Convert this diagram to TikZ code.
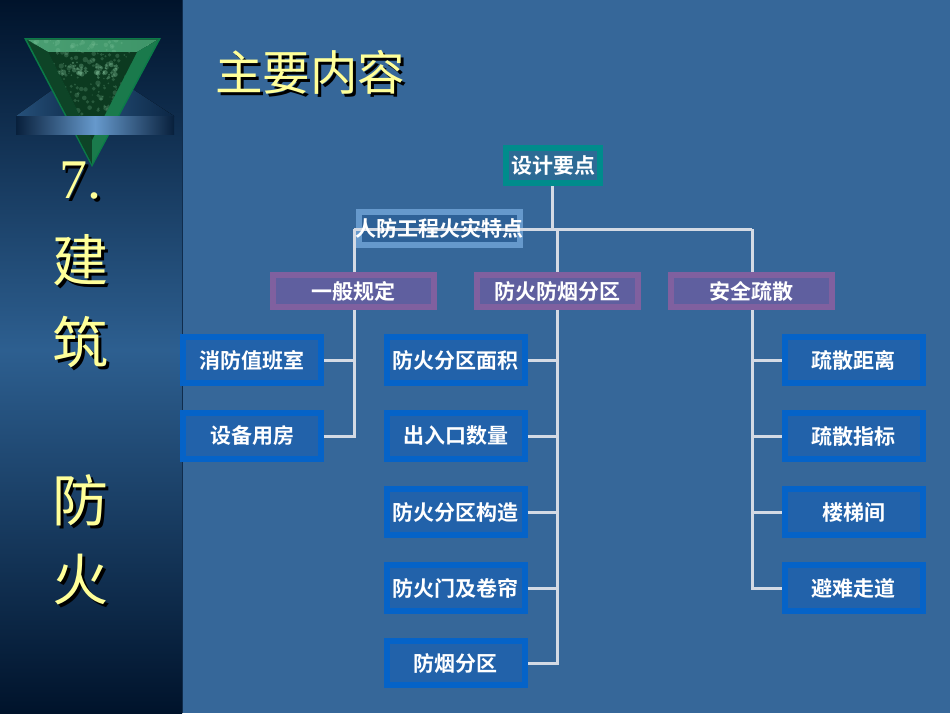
\documentclass[tikz,border=0pt]{standalone}
\usepackage{fontspec}
\setmainfont{Noto Sans CJK SC}
\newfontfamily\cjkb{Noto Sans CJK SC Bold}
\newfontfamily\latn{Liberation Serif}
\definecolor{bgblue}{HTML}{366799}
\definecolor{stripmid}{HTML}{2D5F90}
\definecolor{stripdark}{HTML}{00132B}
\definecolor{connline}{HTML}{D4DAE4}
\definecolor{yel}{HTML}{FFFF99}
\definecolor{purpleedge}{HTML}{80609F}
\definecolor{purplefill}{HTML}{5F5F9F}
\definecolor{blueedge}{HTML}{0563C8}
\definecolor{bluefill}{HTML}{2262AA}
\definecolor{lightedge}{HTML}{6699CC}
\definecolor{lightfill}{HTML}{2E6197}
\definecolor{tealedge}{HTML}{008C8C}
\definecolor{tealfill}{HTML}{2D6B95}
\definecolor{gemlight}{HTML}{4A9E72}
\definecolor{gemmid}{HTML}{1A7A4C}
\definecolor{gemdark}{HTML}{0C3A20}
\definecolor{gemedge}{HTML}{0B7A48}
\definecolor{fleck}{HTML}{8FD0A8}
\tikzset{
  x=1pt,y=-1pt,
  boxtext/.style={text=white,font=\cjkb\fontsize{21}{23}\selectfont,inner sep=0pt,align=center},
  tealbox/.style={boxtext,draw=tealedge,fill=tealfill,line width=6pt,minimum width=94pt,minimum height=35pt},
  purplebox/.style={boxtext,draw=purpleedge,fill=purplefill,line width=6pt,minimum width=161pt,minimum height=32pt},
  bluebox/.style={boxtext,draw=blueedge,fill=bluefill,line width=6pt,minimum width=138pt,minimum height=46pt},
  lightbox/.style={draw=lightedge,fill=lightfill,line width=6pt,minimum width=161pt,minimum height=33pt,inner sep=0pt},
  conn/.style={draw=connline,line width=3pt,line cap=butt,line join=miter},
  bigtext/.style={text=yel,inner sep=0pt},
  bigshadow/.style={text=black,inner sep=0pt},
}
\newcommand{\bigchar}[4]{%
  \node[bigshadow,font=#4] at (#1+3,#2+3) {#3};
  \node[bigtext,font=#4] at (#1,#2) {#3};}
\newcommand{\flecks}[6]{% x0 y0 dx dy count opacity
  \foreach \i in {1,...,#5}{
    \pgfmathsetmacro{\px}{#1+rnd*#3}
    \pgfmathsetmacro{\py}{#2+rnd*#4}
    \pgfmathsetmacro{\pr}{0.5+rnd*2.2}
    \fill[fleck,opacity=#6] (\px,\py) circle[radius=\pr];
  }}
\pgfmathsetseed{11}
\begin{document}
\begin{tikzpicture}
\useasboundingbox (0,0) rectangle (950,713);
% backgrounds
\fill[bgblue] (0,0) rectangle (950,713);
\fill[top color=stripdark,bottom color=stripmid] (0,0) rectangle (182,350);
\fill[top color=stripmid,bottom color=stripdark] (0,350) rectangle (182,713);
\draw[stripdark!70!bgblue,line width=0.8pt] (182.5,0) -- (182.5,713);
% stand behind the gem
\fill[left color=stripmid!85!black,right color=stripdark!75!stripmid] (16,116) -- (52,90) -- (92,90) -- (92,116) -- cycle;
\fill[left color=stripmid!85!black,right color=stripdark!75!stripmid] (174,116) -- (134,90) -- (92,90) -- (92,116) -- cycle;
% gem
\fill[gemedge] (24,38) -- (161,38) -- (92,167) -- cycle;
\fill[left color=gemlight,right color=gemlight!75!gemmid] (27,39.5) -- (158,39.5) -- (137,52) -- (48,52) -- cycle;
\fill[gemdark!85!gemmid] (27,40) -- (48,52) -- (92,140) -- (92,164) -- cycle;
\fill[gemmid] (158,40) -- (137,52) -- (92,140) -- (92,164) -- cycle;
\begin{scope}
  \clip (48,52) -- (137,52) -- (92,140) -- cycle;
  \fill[gemdark] (40,50) rectangle (140,145);
  \flecks{48}{52}{89}{70}{170}{0.22}
  \flecks{58}{62}{30}{14}{30}{0.3}
  \flecks{92}{65}{26}{16}{25}{0.35}
\end{scope}
\begin{scope}
  \clip (27,40) -- (158,40) -- (137,52) -- (48,52) -- cycle;
  \flecks{30}{40}{125}{12}{45}{0.2}
\end{scope}
% bar
\fill[left color=stripdark!85!bgblue,right color=lightedge] (16,116) rectangle (95,134);
\fill[right color=stripdark!85!bgblue,left color=lightedge] (95,116) rectangle (174,134);
% side column text
\bigchar{80.5}{181}{7.}{\latn\fontsize{56}{58}\selectfont}
\bigchar{80.5}{260}{建}{\fontsize{56}{58}\selectfont}
\bigchar{80.5}{342}{筑}{\fontsize{56}{58}\selectfont}
\bigchar{80.5}{500}{防}{\fontsize{56}{58}\selectfont}
\bigchar{80.5}{580}{火}{\fontsize{56}{58}\selectfont}
% title
\bigchar{310}{72}{主要内容}{\fontsize{47.5}{49}\selectfont}
% nodes
\node[tealbox] (root) at (553,165.5) {设计要点};
\node[lightbox] (fire) at (439.5,228.5) {};
\node[purplebox] (gen) at (353.5,291) {一般规定};
\node[purplebox] (zone) at (557,291) {防火防烟分区};
\node[purplebox] (safe) at (751.5,291) {安全疏散};
\node[bluebox] (a1) at (252,360) {消防值班室};
\node[bluebox] (a2) at (252,436) {设备用房};
\node[bluebox] (b1) at (455.5,360) {防火分区面积};
\node[bluebox] (b2) at (455.5,436) {出入口数量};
\node[bluebox] (b3) at (455.5,512) {防火分区构造};
\node[bluebox] (b4) at (455.5,588) {防火门及卷帘};
\node[bluebox,minimum height=44pt] (b5) at (455.5,663) {防烟分区};
\node[bluebox] (c1) at (853.5,360) {疏散距离};
\node[bluebox] (c2) at (853.5,436) {疏散指标};
\node[bluebox] (c3) at (853.5,512) {楼梯间};
\node[bluebox] (c4) at (853.5,588) {避难走道};
% junctions
\coordinate (bus) at (552,229);
\coordinate (busl) at (354,229);
\coordinate (busm) at (557,229);
\coordinate (busr) at (752,229);
% connectors
\draw[conn] (root.south) ++(-1,3) -- (root.south -| bus) -- (bus);
\draw[conn] (busl) -- (busr);
\draw[conn] (busl) -- (busl |- gen.north);
\draw[conn] (busm) -- (busm |- zone.north);
\draw[conn] (busr) -- (busr |- safe.north);
\coordinate (gs) at (354,310);
\coordinate (zs) at (557,310);
\coordinate (ss) at (752,310);
\draw[conn] (gs) -- (gs |- a2.east) -- (a2.east);
\draw[conn] (a1.east) -- (gs |- a1.east);
\draw[conn] (zs) -- (zs |- b5.east) -- (b5.east);
\foreach \n in {b1,b2,b3,b4}{\draw[conn] (\n.east) -- (zs |- \n.east);}
\draw[conn] (ss) -- (ss |- c4.west) -- (c4.west);
\foreach \n in {c1,c2,c3}{\draw[conn] (\n.west) -- (ss |- \n.west);}
% label over the crossing line
\node[boxtext] (firetext) at (fire.center) {人防工程火灾特点};
\end{tikzpicture}
\end{document}
